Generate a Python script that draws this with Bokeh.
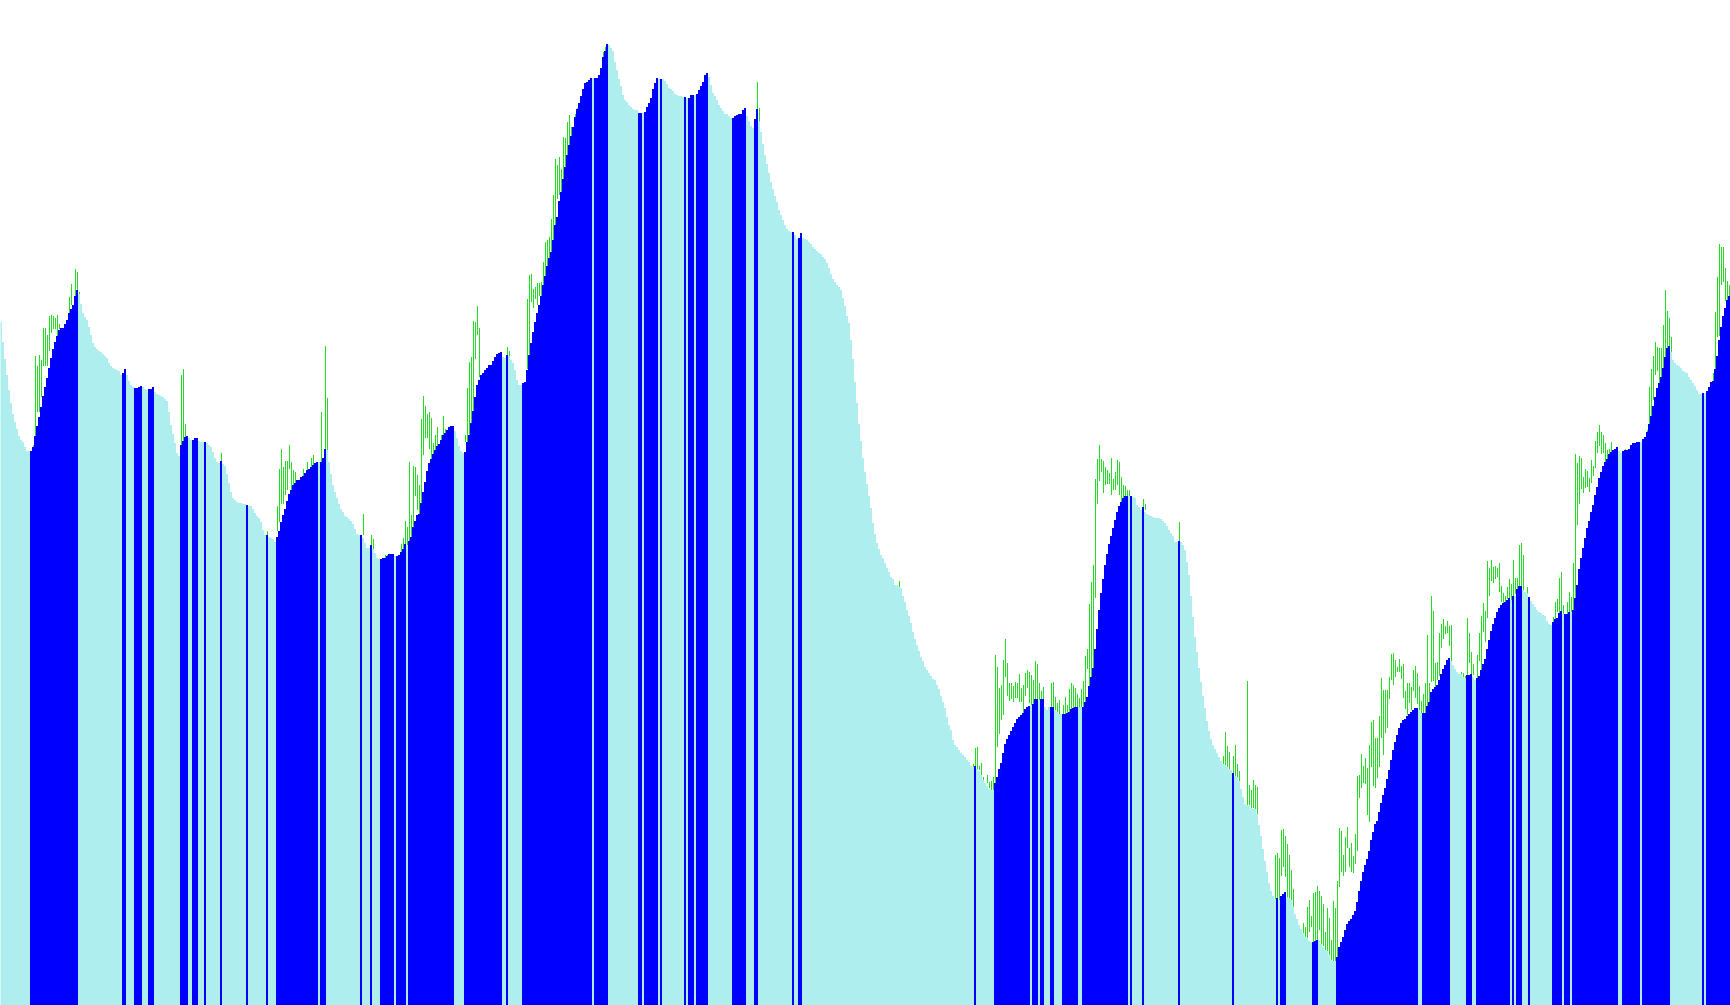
from bokeh.plotting import figure
from bokeh.models import Range1d, ColumnDataSource
from bokeh.embed import file_html
from bokeh.resources import INLINE

# Bar level per period (0..864)
level = [
    683,663,646,630,615,602,591,583,576,569,
    565,563,558,554,554,554,558,569,579,588,
    598,609,618,627,637,647,656,663,669,675,
    677,677,681,685,692,696,700,709,715,711,
    701,692,688,685,678,670,662,658,656,654,
    653,651,649,647,642,639,637,636,635,634,
    630,632,636,630,624,620,618,617,617,618,
    619,618,616,615,616,616,618,613,611,610,
    609,608,606,604,593,580,571,562,552,549,
    560,564,568,569,567,565,565,567,567,564,
    563,563,563,562,560,558,553,547,543,542,
    544,541,539,531,522,513,507,505,503,502,
    502,501,501,500,499,499,496,492,489,487,
    483,475,470,470,468,467,466,463,468,474,
    483,490,496,504,511,
    515,520,522,525,525,528,529,532,535,536,
    538,540,542,543,543,543,547,556,555,543,
    531,520,513,507,501,496,493,489,488,486,
    484,481,476,471,470,470,467,462,457,457,
    460,456,452,447,446,446,447,447,449,451,
    451,451,449,449,450,453,456,461,460,464,
    468,478,484,490,491,502,513,523,534,542,
    546,551,555,559,561,565,570,572,575,578,
    579,579,574,567,559,554,552,553,563,570,
    582,594,608,620,625,630,632,635,637,640,
    640,644,648,651,652,653,648,647,650,649,
    645,642,635,625,620,620,622,623,635,650,
    662,673,683,692,700,709,720,729,739,747,
    753,765,780,788,804,813,826,838,850,860,
    869,878,888,896,902,
    909,916,922,923,925,927,927,927,927,930,
    937,948,954,961,960,957,954,943,935,926,
    919,910,905,903,900,898,896,895,895,892,
    892,892,893,898,902,907,916,922,927,926,
    926,926,924,921,917,916,914,911,910,909,
    909,908,908,907,907,910,910,910,911,915,
    919,923,930,932,928,920,912,909,905,900,
    897,894,891,891,889,887,887,889,890,891,
    891,895,897,889,884,879,877,886,896,884,
    873,861,850,841,832,823,816,809,803,795,
    790,785,780,776,774,773,773,770,766,767,
    772,767,766,765,763,761,758,756,754,752,
    751,748,746,742,737,731,726,723,720,718,
    715,707,699,689,682,665,646,623,602,581,
    564,547,533,521,509,
    497,482,471,462,456,450,447,442,437,433,
    428,426,420,420,418,417,409,403,395,389,
    382,373,366,360,354,348,344,338,335,332,
    329,326,325,320,316,309,303,297,288,280,
    275,265,260,258,255,252,250,248,245,243,
    239,238,239,236,234,230,225,222,219,216,
    215,215,222,228,236,242,252,261,266,270,
    274,278,282,286,288,290,292,296,298,299,
    300,301,306,306,305,306,306,298,295,298,
    298,298,295,293,291,291,291,291,292,293,
    296,297,298,298,298,298,298,303,308,319,
    328,337,356,376,395,412,426,440,451,461,
    469,477,485,493,499,503,507,509,509,509,
    509,508,507,500,498,495,498,493,491,490,
    489,488,487,487,487,
    486,484,482,479,475,472,469,463,463,464,
    463,460,455,443,430,409,388,368,353,337,
    323,309,297,284,274,266,260,256,252,248,
    244,241,240,238,236,235,232,229,228,224,
    216,208,201,200,199,197,196,196,191,180,
    169,156,144,133,122,114,109,106,107,105,
    109,111,113,108,107,105,98,91,86,80,
    76,72,68,67,64,63,63,64,65,65,
    61,58,55,54,50,45,44,44,48,58,
    63,68,75,81,84,86,90,94,103,114,
    124,133,140,146,154,165,173,181,184,193,
    202,210,217,226,235,245,255,263,270,277,
    282,285,286,289,291,293,295,297,297,295,
    292,292,292,299,303,313,316,318,320,325,
    331,336,340,345,347,
    344,340,336,333,331,331,328,327,330,330,
    331,328,325,327,329,335,341,346,356,365,
    374,381,387,393,397,400,402,403,405,407,
    405,409,409,416,419,419,415,413,412,408,
    404,401,398,395,393,392,390,389,384,381,
    380,383,386,387,392,394,391,391,391,393,
    393,395,407,420,436,447,457,467,477,484,
    493,500,510,518,527,533,539,543,546,551,
    553,555,556,558,554,552,554,555,555,556,
    560,562,562,563,563,563,566,568,573,581,
    589,599,608,617,622,628,637,648,657,659,
    653,645,642,640,639,637,634,633,632,628,
    625,622,619,615,611,611,612,612,614,618,
    623,624,636,649,665,678,689,697,705,709,
]

# Runs of "up" (blue) periods, inclusive index ranges
up_runs = [
    (15, 38), (61, 62), (67, 70), (74, 76), (90, 93), (96, 98), (102, 102),
    (110, 110), (123, 123), (133, 133), (138, 158), (160, 162), (180, 180),
    (185, 185), (190, 196), (198, 202), (204, 226), (232, 250), (253, 253),
    (261, 295), (297, 303), (319, 320), (322, 328), (330, 330), (342, 342),
    (344, 346), (348, 353), (366, 372), (377, 378), (396, 396), (399, 400),
    (487, 487), (497, 514), (516, 518), (520, 521), (525, 526), (531, 538),
    (541, 563), (565, 565), (571, 571), (589, 589), (616, 616), (638, 638),
    (640, 642), (656, 658), (668, 708), (711, 724), (733, 735), (738, 754),
    (756, 756), (758, 760), (764, 764), (776, 780), (782, 784), (786, 808),
    (811, 819), (821, 834), (851, 851), (853, 864),
]

# Price range (high/low) where visible above the bars
wick_bar = [
    16,17,18,19,20,21,22,23,24,25,26,27,28,29,34,35,37,38,39,90,91,92,110,133,138,139,140,141,142,143,144,
] + [
    145,146,147,151,153,155,156,160,162,163, 181,185,186,192,193,200,201,202,203,204,
    205,206,207,208,209,210,211,212,213,214, 215,216,217,218,220,221,222,232,233,234,
    235,236,237,238,239,253,254,263,264,265, 266,267,268,269,270,271,272,273,274,275,
    276,277,278,279,280,281,282,283,284,285, 287,288,
] + [301, 302, 378, 379] + [
    449,486,487,488,489,490,491,493,494,495, 496,497,498,499,500,501,502,503,504,505,
    506,507,508,509,510,511,512,513,514,515, 516,517,518,519,520,521,525,526,527,528,
    529,531,532,533,534,535,536,537,538,539, 540,541,542,543,544,545,546,547,548,549,
    550,551,552,553,554,555,556,557,558,559, 560,561,562,563,564,571,572,
] + [
    589,611,612,613,614,616,617,618,619,623, 624,625,626,627,628,637,638,639,640,641,
    642,643,644,645,646,651,652,653,654,655, 656,657,658,659,660,661,662,663,664,665,
    666,667,668,669,670,671,672,673,674,675, 676,677,678,679,680,681,682,683,684,685,
    686,687,688,689,690,691,692,693,694,695, 696,697,698,699,700,701,702,703,704,705,
    706,707,708,709,710,711,712,713,714,715, 716,717,718,719,720,721,722,723,724,
] + [
    725,730,731,732,733,734,735,736,738,739, 740,741,742,743,744,745,746,747,748,749,
    750,751,752,753,754,755,756,757,758,759, 760,761,763,776,777,778,779,780,781,783,
    784,785,786,787,788,789,790,791,792,793, 794,795,796,797,798,799,800,801,802,803,
    804,805,812,823,824,825,826,827,828,829, 830,831,832,833,834,835,856,857,858,859,
    860,861,862,863,864,
]

wick_high = [
    560,649,639,650,645,677,677,670,689,690,689,687,690,681,708,721,736,733,713,630,636,581,552,474,499,536,556,538,544,544,560,
] + [
    543,535,533,536,543,547,550,593,659,607, 491,470,466,450,450,461,467,484,478,543,
    490,539,538,530,520,586,609,599,591,593, 587,562,570,578,570,589,576,570,617,643,
    648,684,683,699,677,658,654,706,730,731, 716,718,722,722,723,743,763,765,768,786,
    810,846,840,848,836,868,867,883,890,878, 891,897,
] + [953, 958, 923, 897] + [
    424,241,257,258,239,242,228,230,223,224, 228,350,338,317,320,345,366,342,322,322,
    319,323,322,331,317,320,332,335,333,330, 325,344,341,322,314,318,322,323,308,302,
    305,300,308,300,316,322,320,317,311,307, 316,324,349,356,401,423,440,526,546,560,
    546,544,538,535,532,547,526,533,545,543, 528,520,519,515,515,506,501,
] + [
    483,249,273,259,253,249,260,241,234,324, 220,215,225,220,218,150,152,147,175,176,
    169,161,150,135,116,82,78,98,105,89, 112,113,119,114,109,101,73,97,87,65,
    104,97,124,177,174,150,168,178,157,162, 149,171,229,230,251,239,247,237,260,283,
    285,267,267,289,327,315,315,315,328,351, 352,345,338,346,339,341,314,322,322,318,
    335,339,332,319,304,311,322,370,322,409, 394,342,343,372,381,386,379,384,379,
] + [
    380,333,332,329,387,372,353,341,350,372, 389,402,394,444,437,445,438,439,437,442,
    419,412,409,418,426,421,445,427,427,460, 462,450,418,388,403,406,427,433,400,403,
    413,408,442,551,542,549,547,528,536,534, 527,545,539,564,573,580,573,570,562,555,
    556,563,556,575,618,636,649,663,658,657, 657,680,715,694,687,668,632,693,728,761,
    758,758,737,724,720,
]

wick_low = [
    558,569,593,593,608,639,639,639,654,672,676,676,669,676,692,700,709,715,711,560,564,568,544,470,474,483,501,501,510,515,536,
] + [
    515,520,522,529,535,538,540,543,556,555, 470,460,456,447,449,453,456,461,460,464,
    468,478,509,495,491,502,550,567,567,556, 546,551,555,559,565,570,572,563,563,570,
    582,594,646,670,628,650,649,636,650,703, 697,706,700,709,709,720,729,739,747,753,
    765,780,806,810,813,826,838,850,860,869, 888,896,
] + [948, 954, 896, 884] + [
    418,238,239,236,235,230,225,222,217,215, 215,222,258,271,285,290,328,309,304,306,
    303,307,307,303,303,292,309,317,302,300, 301,306,306,305,306,306,298,298,295,293,
    291,291,291,292,293,296,297,298,298,298, 298,298,303,336,319,328,337,407,501,524,
    533,512,520,521,521,510,515,515,520,510, 503,507,509,509,509,498,495,
] + [
    464,241,240,238,236,232,229,228,224,200, 200,197,197,196,191,106,107,105,129,138,
    128,108,107,105,98,72,68,67,73,78, 63,64,65,75,61,59,55,54,50,45,
    44,44,48,118,133,129,133,157,138,133, 132,141,154,207,217,222,221,190,183,238,
    219,217,227,238,267,250,272,277,306,325, 320,328,333,333,326,307,296,290,302,295,
    314,307,301,295,292,292,292,299,303,323, 324,318,325,329,357,366,371,372,359,
] + [
    344,331,328,327,330,342,331,330,327,344, 335,373,363,387,409,424,422,426,428,413,
    403,402,403,406,407,405,409,411,416,419, 419,415,412,383,386,393,392,394,391,391,
    393,393,395,407,480,501,516,512,517,518, 513,522,529,537,552,559,551,552,543,546,
    551,553,555,573,581,589,605,630,634,622, 628,637,648,657,659,653,624,636,668,669,
    720,723,704,705,709,
]

UP_COLOR = "#0000FF"
DOWN_COLOR = "#AFEEEE"
WICK_COLOR = "#22DD22"

n = len(level)
m = min(len(wick_bar), len(wick_high), len(wick_low))


def step_outline(a, b):
    """Outline of the adjoining bars a..b (inclusive) as one polygon."""
    xs, ys = [a], [0]
    for i in range(a, b + 1):
        xs += [i, i + 1]
        ys += [level[i], level[i]]
    xs.append(b + 1)
    ys.append(0)
    return xs, ys


all_x, all_y = step_outline(0, n - 1)
up_xs, up_ys = [], []
for a, b in up_runs:
    b = min(b, n - 1)
    xs, ys = step_outline(a, b)
    up_xs.append(xs)
    up_ys.append(ys)

# ranges offset by half a screen pixel so that edges land on whole pixels
p = figure(width=1730, height=1005,
           x_range=Range1d(0.25, n + 0.25), y_range=Range1d(-0.5, 1004.5),
           output_backend="svg", toolbar_location=None,
           x_axis_location=None, y_axis_location=None,
           min_border=0, min_border_left=0, min_border_right=0,
           min_border_top=0, min_border_bottom=0)
p.grid.visible = False
p.outline_line_color = None
p.background_fill_color = "white"
p.border_fill_color = "white"

wick_src = ColumnDataSource(dict(
    x=[b + 0.75 for b in wick_bar[:m]],
    hi=wick_high[:m],
    lo=wick_low[:m],
))
p.segment(x0="x", y0="lo", x1="x", y1="hi", source=wick_src,
          line_color=WICK_COLOR, line_width=1)

p.patch(all_x, all_y, fill_color=DOWN_COLOR, line_color=None)
p.patches(up_xs, up_ys, fill_color=UP_COLOR, line_color=None)

open("out.html", "w").write(file_html(p, INLINE))
